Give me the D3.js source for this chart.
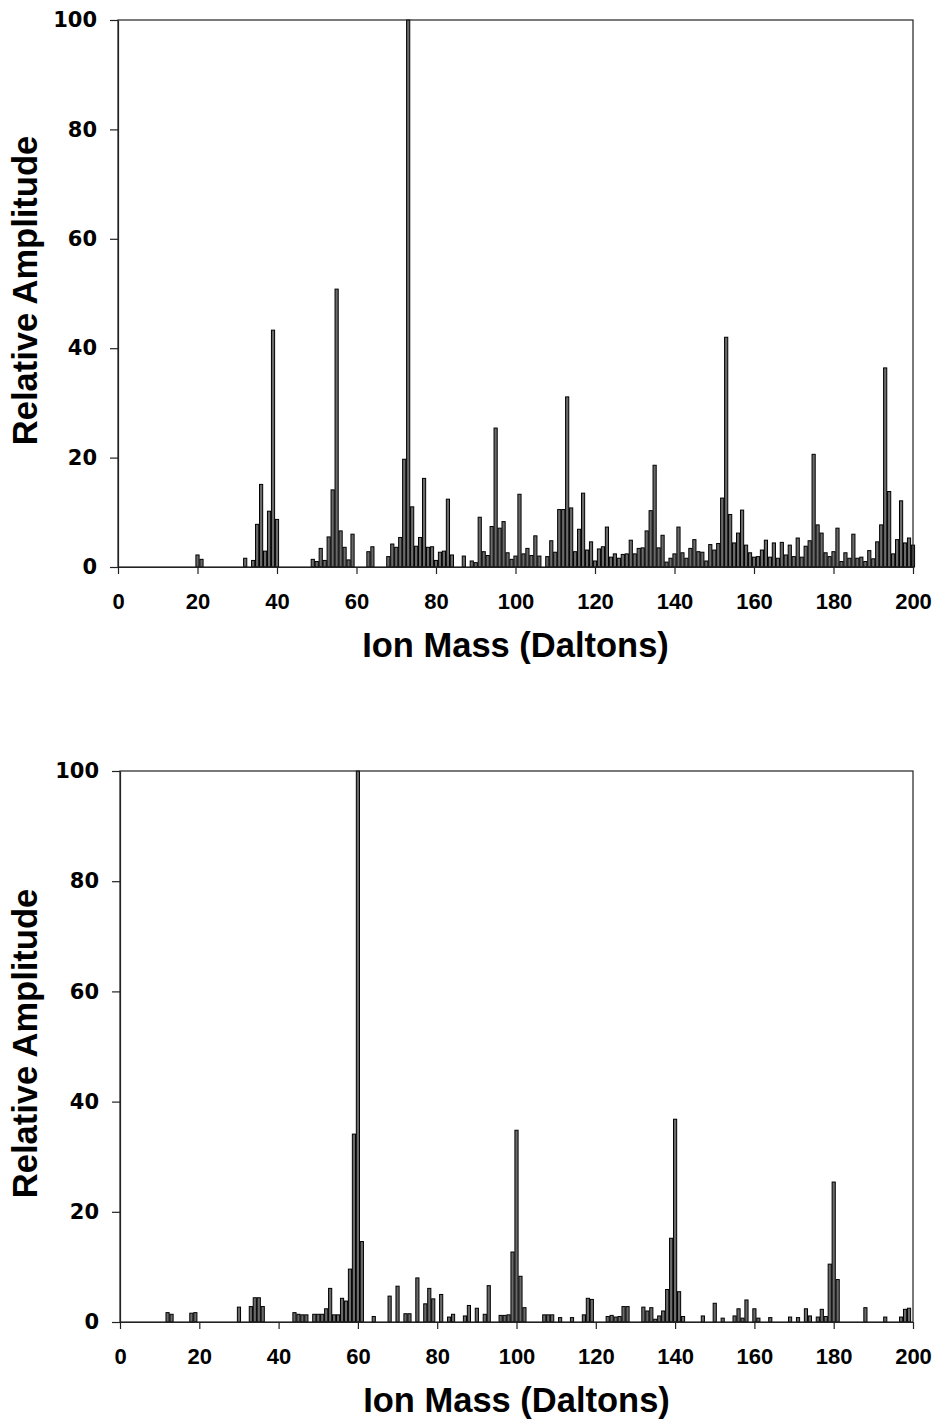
<!DOCTYPE html>
<html>
<head>
<meta charset="utf-8">
<script src="https://cdn.jsdelivr.net/npm/d3@7"></script>
<style>
  body { margin: 0; background: #fff; }
</style>
</head>
<body>
<div id="chart"></div>
<script>
// top spectrum: mass (Da) and relative amplitude
var topMass = [20, 21, 32, 34, 35, 36, 37, 38, 39, 40,
    49, 50, 51, 52, 53, 54, 55, 56, 57, 58, 59, 63, 64,
    68, 69, 70, 71, 72, 73, 74, 75, 76, 77, 78, 79, 80, 81, 82, 83, 84, 87,
    89, 90, 91, 92, 93, 94, 95, 96, 97, 98, 99, 100, 101, 102, 103, 104, 105, 106,
    108, 109, 110, 111, 112, 113, 114, 115, 116, 117, 118, 119, 120, 121, 122, 123,
    124, 125, 126, 127, 128, 129, 130, 131, 132, 133, 134, 135, 136, 137, 138, 139,
    140, 141, 142, 143, 144, 145, 146, 147, 148, 149, 150, 151, 152, 153, 154, 155,
    156, 157, 158, 159, 160, 161, 162, 163, 164, 165, 166, 167, 168, 169, 170, 171,
    172, 173, 174, 175, 176, 177, 178, 179, 180, 181, 182, 183, 184, 185, 186, 187,
    188, 189, 190, 191, 192, 193, 194, 195, 196, 197, 198, 199, 200];
var topAmp = [2.2, 1.4, 1.6, 1.2, 7.8, 15.1, 2.9, 10.2, 43.3, 8.7,
    1.4, 1.0, 3.4, 1.2, 5.5, 14.1, 50.8, 6.6, 3.6, 1.3, 6.0, 2.8, 3.7,
    1.9, 4.2, 3.6, 5.4, 19.7, 100, 11.0, 3.8, 5.4, 16.2, 3.6, 3.7, 1.2, 2.7, 2.9, 12.4, 2.2, 2.0,
    1.1, 0.8, 9.1, 2.8, 2.1, 7.4, 25.4, 7.1, 8.3, 2.6, 1.4, 2.0, 13.3, 2.4, 3.4, 2.1, 5.7, 2.0,
    1.9, 4.8, 2.7, 10.5, 10.5, 31.1, 10.8, 2.8, 6.9, 13.5, 3.1, 4.6, 1.1, 3.3, 3.7, 7.3,
    1.8, 2.4, 1.6, 2.3, 2.4, 4.9, 2.4, 3.4, 3.5, 6.6, 10.3, 18.6, 3.5, 5.8, 0.9, 1.6,
    2.4, 7.3, 2.6, 1.6, 3.4, 5.0, 2.8, 2.7, 1.1, 4.1, 3.1, 4.3, 12.6, 42.0, 9.6, 4.4,
    6.2, 10.4, 4.0, 2.6, 1.8, 1.9, 3.1, 4.9, 1.8, 4.4, 1.6, 4.5, 2.2, 4.0, 1.9, 5.3,
    1.8, 3.8, 4.8, 20.6, 7.7, 6.2, 2.6, 1.9, 2.8, 7.1, 1.0, 2.6, 1.6, 6.0, 1.6, 1.8,
    1.0, 3.0, 1.5, 4.6, 7.7, 36.4, 13.8, 2.4, 5.0, 12.1, 4.4, 5.3, 4.0];

// bottom spectrum
var botMass = [12, 13, 18, 19, 30, 33, 34, 35, 36, 44, 45, 46, 47,
    49, 50, 51, 52, 53, 54, 55, 56, 57, 58, 59, 60, 61, 64, 68, 70, 72, 73, 75,
    77, 78, 79, 81, 83, 84, 87, 88, 90, 92, 93, 96, 97, 98, 99, 100, 101, 102,
    107, 108, 109, 111, 114, 117, 118, 119, 123, 124, 125, 126, 127, 128,
    132, 133, 134, 135, 136, 137, 138, 139, 140, 141, 142, 147, 150, 152,
    155, 156, 157, 158, 160, 161, 164, 169, 171, 173, 174, 176, 177, 178,
    179, 180, 181, 188, 193, 197, 198, 199];
var botAmp = [1.7, 1.4, 1.6, 1.7, 2.7, 2.8, 4.4, 4.4, 2.8, 1.7, 1.4, 1.3, 1.3,
    1.4, 1.4, 1.4, 2.4, 6.1, 1.3, 1.3, 4.3, 3.8, 9.6, 34.1, 100, 14.6, 1.0, 4.7, 6.5, 1.5, 1.5, 8.0,
    3.3, 6.1, 4.2, 5.0, 0.9, 1.4, 1.1, 3.0, 2.5, 1.4, 6.6, 1.2, 1.2, 1.3, 12.7, 34.8, 8.3, 2.6,
    1.3, 1.3, 1.3, 0.8, 0.8, 1.3, 4.3, 4.1, 1.0, 1.2, 0.9, 1.0, 2.8, 2.8,
    2.7, 2.0, 2.6, 0.5, 1.1, 2.0, 5.9, 15.2, 36.8, 5.5, 1.0, 1.1, 3.4, 0.7,
    1.1, 2.4, 0.7, 4.0, 2.4, 0.7, 0.8, 0.9, 0.8, 2.4, 1.1, 0.9, 2.3, 1.0,
    10.5, 25.4, 7.7, 2.6, 0.9, 0.9, 2.3, 2.5];

var xTickVals = [0, 20, 40, 60, 80, 100, 120, 140, 160, 180, 200];
var yTickVals = [0, 20, 40, 60, 80, 100];

var xTitle = "Ion Mass (Daltons)";
var yTitle = "Relative Amplitude";

var svg = d3.select("#chart")
            .append("svg")
            .attr("width", 941)
            .attr("height", 1428)
            .style("background", "#fff");

function drawPanel(mass, amp, box) {

    var xScale = d3.scaleLinear()
                   .domain([0, 200])
                   .range([box.left, box.right]);

    var yScale = d3.scaleLinear()
                   .domain([0, 100])
                   .range([box.bottom, box.top]);

    var data = mass.map(function(m, i) { return {mass: m, amp: amp[i]}; });
    var unit = xScale(1) - xScale(0);

    var g = svg.append("g");

    // bars, one per integer mass
    g.append("g")
        .attr("class", "bars")
        .selectAll("rect.bar")
        .data(data)
        .enter()
        .append("rect")
        .attr("class", "bar")
        .attr("x", function(d) { return xScale(d.mass - 0.5) + 0.4; })
        .attr("width", unit - 0.8)
        .attr("y", function(d) { return yScale(d.amp); })
        .attr("height", function(d) { return yScale(0) - yScale(d.amp); })
        .attr("fill", "#6a6a6a")
        .attr("stroke", "#000")
        .attr("stroke-width", 1);

    // frame
    g.append("rect")
        .attr("x", box.left)
        .attr("y", box.top)
        .attr("width", box.right - box.left)
        .attr("height", box.bottom - box.top)
        .attr("fill", "none")
        .attr("stroke", "#222")
        .attr("stroke-width", 1.2);

    var xAxis = d3.axisBottom(xScale)
                  .tickValues(xTickVals)
                  .tickSizeInner(7)
                  .tickSizeOuter(0)
                  .tickPadding(19);

    var yAxis = d3.axisLeft(yScale)
                  .tickValues(yTickVals)
                  .tickSizeInner(8)
                  .tickSizeOuter(0)
                  .tickPadding(13);

    var gx = g.append("g")
        .attr("class", "x-axis")
        .attr("transform", "translate(0," + box.bottom + ")")
        .call(xAxis);
    gx.selectAll("path, line").attr("stroke", "#222").attr("stroke-width", 1.2);
    gx.selectAll("text")
        .style("font-family", "'Liberation Sans', Arial, sans-serif")
        .style("font-weight", "bold")
        .style("font-size", "22px")
        .attr("fill", "#000");

    var gy = g.append("g")
        .attr("class", "y-axis")
        .attr("transform", "translate(" + box.left + ",0)")
        .call(yAxis);
    gy.selectAll("path, line").attr("stroke", "#222").attr("stroke-width", 1.2);
    gy.selectAll("text")
        .style("font-family", "'DejaVu Sans', sans-serif")
        .style("font-weight", "bold")
        .style("font-size", "21px")
        .attr("fill", "#000");

    // titles
    g.append("text")
        .attr("x", (box.left + box.right) / 2)
        .attr("y", box.bottom + 90)
        .style("text-anchor", "middle")
        .style("font-family", "'Liberation Sans', Arial, sans-serif")
        .style("font-weight", "bold")
        .style("font-size", "34.5px")
        .text(xTitle);

    g.append("text")
        .attr("transform", "translate(37," + ((box.top + box.bottom) / 2 - 3) + ") rotate(-90)")
        .style("text-anchor", "middle")
        .style("font-family", "'Liberation Sans', Arial, sans-serif")
        .style("font-weight", "bold")
        .style("font-size", "34.5px")
        .text(yTitle);
}

drawPanel(topMass, topAmp, {left: 118, right: 913, top: 20, bottom: 567});
drawPanel(botMass, botAmp, {left: 120, right: 913, top: 771, bottom: 1322});
</script>
</body>
</html>
